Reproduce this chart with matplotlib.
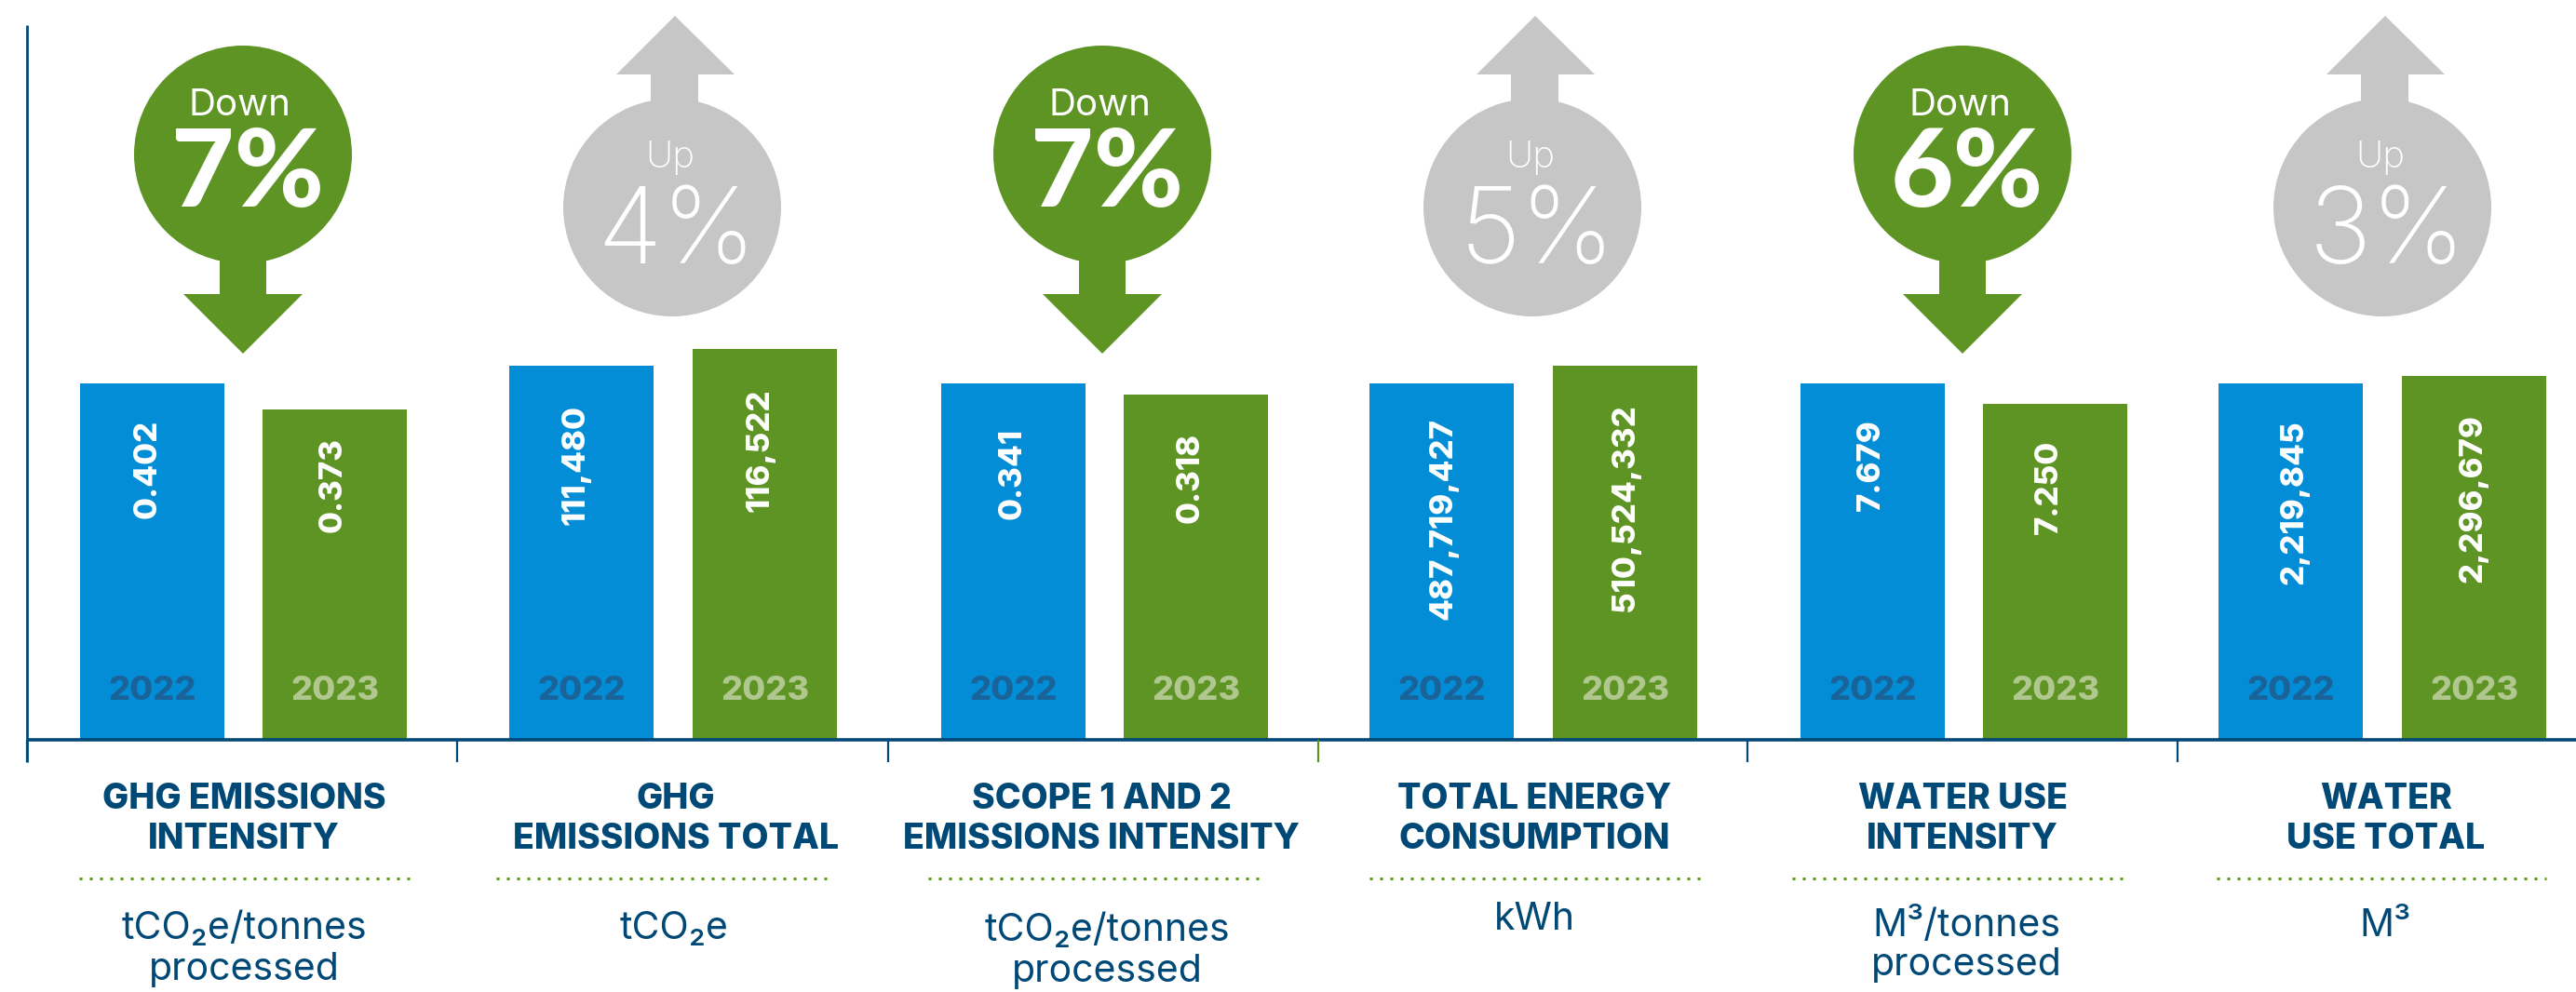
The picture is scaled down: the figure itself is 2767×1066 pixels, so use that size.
import matplotlib
matplotlib.use("Agg")
import matplotlib.pyplot as plt
from matplotlib.patches import Circle, Polygon

plt.rcParams['font.family'] = ['Inter', 'DejaVu Sans']

W, H = 2767, 1066
BASE = 795

BLUE = '#028dd6'
GREEN = '#5e9424'
GREY = '#c6c6c6'
NAVY = '#004876'

years = ['2022', '2023']
# bar heights as drawn in the picture (the bars are not quite to scale with their labels)
heights_2022 = [383, 402, 383, 383, 383, 383]
heights_2023 = [355, 420, 371, 402, 361, 391]
labels_2022 = ['0.402', '111,480', '0.341', '487,719,427', '7.679', '2,219,845']
labels_2023 = ['0.373', '116,522', '0.318', '510,524,332', '7.250', '2,296,679']
directions = ['Down', 'Up', 'Down', 'Up', 'Down', 'Up']
changes = ['7%', '4%', '7%', '5%', '6%', '3%']
titles = [['GHG EMISSIONS', 'INTENSITY'], ['GHG', 'EMISSIONS TOTAL'],
          ['SCOPE 1 AND 2', 'EMISSIONS INTENSITY'], ['TOTAL ENERGY', 'CONSUMPTION'],
          ['WATER USE', 'INTENSITY'], ['WATER', 'USE TOTAL']]
units = [['tCO₂e/tonnes', 'processed'], ['tCO₂e'], ['tCO₂e/tonnes', 'processed'],
         ['kWh'], ['M³/tonnes', 'processed'], ['M³']]

# layout, all in reference pixels
left_2022 = [86, 547, 1011, 1471, 1934, 2383]
left_2023 = [282, 744, 1207, 1668, 2130, 2580]
circle_x = [261, 722, 1184, 1646, 2108, 2559]
title_x = [262, 726, 1183, 1648, 2108, 2563]
unit_x = [262, 724, 1189, 1648, 2112, 2562]
dots_x = [(85, 440), (533, 888), (997, 1352), (1471, 1827), (1925, 2280), (2381, 2735)]
ticks_x = [29, 491, 954, 1416, 1877, 2339]
label_x_2022 = [159, 619, 1088, 1550, 2010, 2464]
label_x_2023 = [358, 816, 1279, 1746, 2201, 2657]
label_y_2022 = [504, 500, 509, 557, 500, 540]
label_y_2023 = [521, 484, 513, 546, 523, 536]
unit_y = [[998, 1042], [998], [1000, 1044], [988], [994, 1037], [995]]

fig = plt.figure(figsize=(W / 100, H / 100), dpi=100)

bars = fig.add_axes([0, 1 - BASE / H, 1, BASE / H])
bars.set_xlim(0, W)
bars.set_ylim(0, BASE)
bars.axis('off')
bars.bar(left_2022, heights_2022, width=155, align='edge', color=BLUE)
bars.bar(left_2023, heights_2023, width=155, align='edge', color=GREEN)

ax = fig.add_axes([0, 0, 1, 1])
ax.set_xlim(0, W)
ax.set_ylim(H, 0)
ax.axis('off')

# axis lines
ax.plot([29, 29], [27, 819], color=NAVY, lw=2, solid_capstyle='butt')
ax.plot([29, W], [BASE, BASE], color=NAVY, lw=2.6, solid_capstyle='butt')
for i, tx in enumerate(ticks_x):
    ax.plot([tx, tx], [BASE, 819], color=GREEN if i == 3 else NAVY, lw=1.6, solid_capstyle='butt')

for i in range(6):
    for left, year, col in [(left_2022[i], years[0], '#1a6399'), (left_2023[i], years[1], '#b0c88f')]:
        ax.text(left + 78, 743, year, color=col, fontsize=26, fontweight=800,
                ha='center', va='center', zorder=5)
    ax.text(label_x_2022[i], label_y_2022[i], labels_2022[i], color='white', fontsize=25,
            fontweight=800, rotation=90, ha='center', va='center', zorder=5)
    ax.text(label_x_2023[i], label_y_2023[i], labels_2023[i], color='white', fontsize=25,
            fontweight=800, rotation=90, ha='center', va='center', zorder=5)

    # circle with arrow
    cx = circle_x[i]
    if directions[i] == 'Down':
        cy = 166
        ax.add_patch(Circle((cx, cy), 117, color=GREEN, lw=0, zorder=3))
        ax.add_patch(Polygon([(cx - 25, 270), (cx + 25, 270), (cx + 25, 316), (cx + 64, 316),
                              (cx, 380), (cx - 64, 316), (cx - 25, 316)], color=GREEN, lw=0, zorder=3))
        ax.text(cx - 3, 113, directions[i], color='white', fontsize=29, ha='center', va='center', zorder=6)
        ax.text(cx + 5, 188, changes[i], color='white', fontsize=84, fontweight='black',
                family=['Lato', 'DejaVu Sans'], ha='center', va='center', zorder=6)
    else:
        cy = 223
        ax.add_patch(Circle((cx, cy), 117, color=GREY, lw=0, zorder=3))
        ax.add_patch(Polygon([(cx - 23, 120), (cx + 28, 120), (cx + 28, 80), (cx + 67, 80),
                              (cx + 3, 17), (cx - 60, 80), (cx - 23, 80)], color=GREY, lw=0, zorder=3))
        ax.text(cx - 2, 169, directions[i], color='white', fontsize=29, fontweight='light',
                ha='center', va='center', zorder=6)
        ax.text(cx + 5, 253, changes[i], color='white', fontsize=82, fontweight='light',
                ha='center', va='center', zorder=6)

    # titles, dotted rule, units
    ax.text(title_x[i], 859, titles[i][0], color=NAVY, fontsize=27, fontweight=800, ha='center', va='center')
    ax.text(title_x[i], 902, titles[i][1], color=NAVY, fontsize=27, fontweight=800, ha='center', va='center')
    ax.plot(dots_x[i], [944, 944], color='#5e9a1a', lw=2.2, linestyle=(0, (1, 2.6)))
    for line, y in zip(units[i], unit_y[i]):
        ax.text(unit_x[i], y, line, color=NAVY, fontsize=29.5, ha='center', va='center')

fig.savefig('out.png', dpi=100)
